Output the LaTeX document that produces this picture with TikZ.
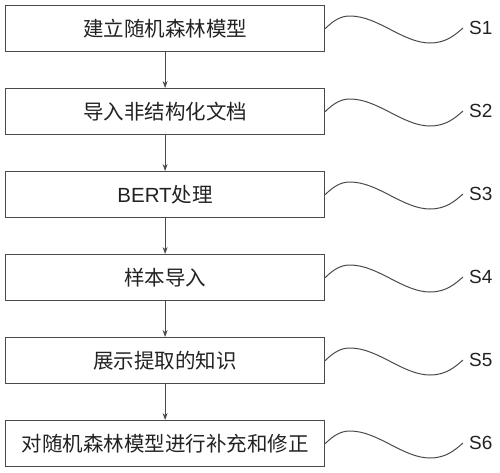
\documentclass[tikz,border=0pt]{standalone}
\usepackage{fontspec}
\setmainfont{Liberation Sans}
\newfontfamily\cjk{Noto Sans CJK SC}
\usetikzlibrary{arrows.meta}
\definecolor{ln}{HTML}{4A4A4A}
\definecolor{tx}{HTML}{222222}
\tikzset{
  stepbox/.style={draw=ln, line width=1.2pt, minimum width=319pt, minimum height=46pt, inner sep=0pt, text=tx, font=\fontsize{20.5}{22}\selectfont, anchor=north west},
  flow/.style={draw=ln, line width=0.9pt, -{Stealth[length=7pt,width=5pt]}},
  wave/.style={draw=ln, line width=1pt},
  slabel/.style={text=tx, font=\fontsize{19}{21}\selectfont, anchor=west, inner sep=0pt}
}
\begin{document}
\begin{tikzpicture}[x=1pt,y=-1pt]
\useasboundingbox (0,0) rectangle (500,472);
\foreach \i/\y/\t in {1/5/{\cjk 建立随机森林模型},2/88/{\cjk 导入非结构化文档},3/171/{BERT\cjk 处理},4/254/{\cjk 样本导入},5/337/{\cjk 展示提取的知识},6/420/{\cjk 对随机森林模型进行补充和修正}}{
  \node[stepbox] (b\i) at (5,\y) {\t};
  \node[slabel] (s\i) at (469,\y+23) {S\i};
  \coordinate (w\i) at (463,\y+23);
  \draw[wave] (b\i.east) .. controls (334,\y+15) and (341,\y+11) .. (350,\y+11)
     .. controls (378,\y+11) and (403,\y+38) .. (430,\y+38)
     .. controls (446,\y+38) and (455,\y+30) .. (w\i);
}
\foreach \a/\b in {1/2,2/3,3/4,4/5,5/6}{
  \draw[flow] (b\a.south) -- (b\b.north);
}
\end{tikzpicture}
\end{document}
